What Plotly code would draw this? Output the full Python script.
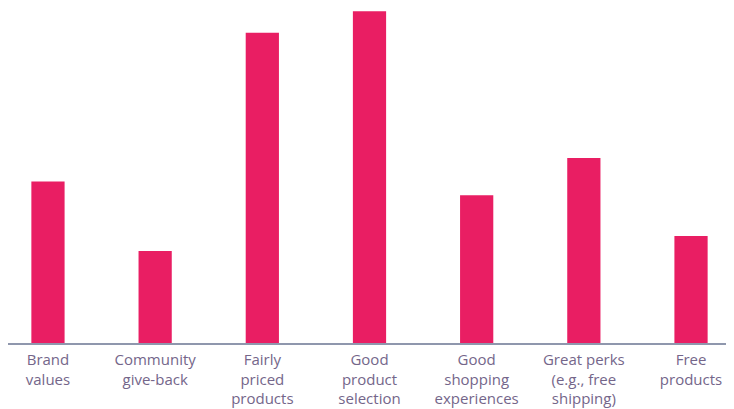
import plotly.graph_objects as go

categories = ["Brand<br>values", "Community<br>give-back", "Fairly<br>priced<br>products",
              "Good<br>product<br>selection", "Good<br>shopping<br>experiences",
              "Great perks<br>(e.g., free<br>shipping)", "Free<br>products"]
values = [15.1, 8.6, 29.0, 31.0, 13.8, 17.3, 10.0]

fig = go.Figure(go.Bar(
    x=list(range(len(categories))), y=values,
    marker=dict(color="#E91E63", line=dict(width=0)),
    width=0.31,
))

fig.update_layout(
    width=726, height=401,
    margin=dict(l=0, r=0, t=0, b=66, autoexpand=False),
    paper_bgcolor="white", plot_bgcolor="white",
    showlegend=False,
    font=dict(family="Open Sans", size=15, color="#74668a"),
    xaxis=dict(
        tickmode="array", tickvals=list(range(len(categories))), ticktext=categories,
        range=[-0.373, 6.401], showgrid=False, zeroline=False,
        showline=True, linecolor="#8f97ad", linewidth=2,
        ticks="", ticklabelstandoff=2, automargin=False,
    ),
    yaxis=dict(range=[0, 31.31], visible=False),
)

fig.write_html("out.html")
